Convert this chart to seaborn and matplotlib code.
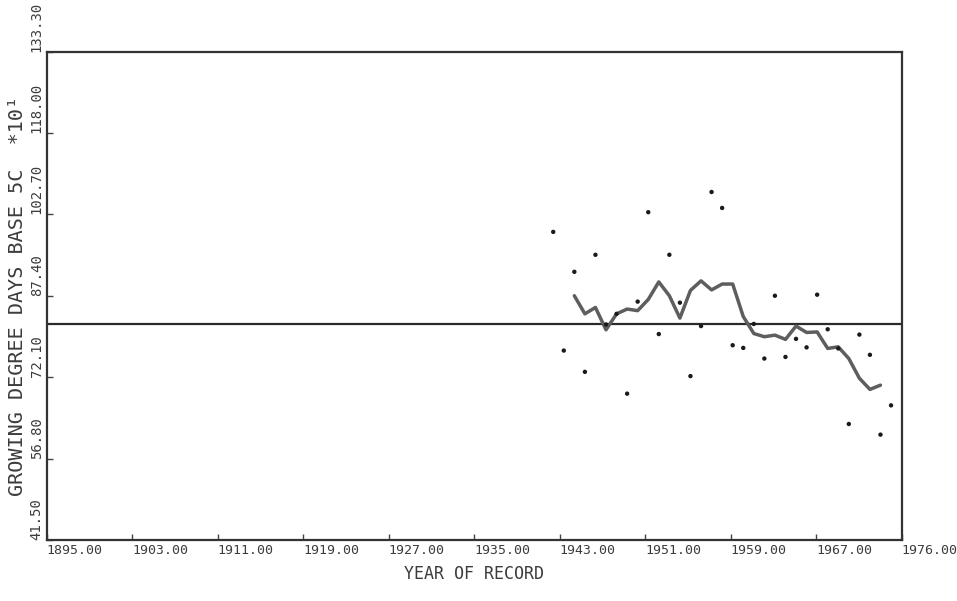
import numpy as np
import pandas as pd
import matplotlib
matplotlib.use("Agg")
import matplotlib.pyplot as plt
import seaborn as sns

# ---- data ----
years = list(range(1943, 1976))
gdd = [99.4, 77.1, 91.9, 73.1, 95.1, 82.0, 84.0, 69.0, 86.3, 103.1, 80.2,
       95.1, 86.1, 72.3, 81.7, 106.9, 103.9, 78.1, 77.6, 82.1, 75.6, 87.4,
       75.9, 79.3, 77.7, 87.6, 81.1, 77.5, 63.3, 80.1, 76.3, 61.3, 66.8]

smooth_years = list(range(1945, 1975))
smooth_vals = [87.4, 84.0, 85.2, 81.0, 84.0, 84.9, 84.6, 86.7, 90.0, 87.4,
               83.2, 88.4, 90.2, 88.5, 89.6, 89.6, 83.5, 80.3, 79.7, 80.0,
               79.2, 81.7, 80.5, 80.6, 77.5, 77.8, 75.6, 71.9, 69.8, 70.6]

mean_value = 82.0

x_ticks = [1895.0, 1903.1, 1911.2, 1919.3, 1927.4, 1935.5, 1943.6, 1951.7,
           1959.8, 1967.9, 1976.0]
x_tick_labels = ["1895.00", "1903.00", "1911.00", "1919.00", "1927.00",
                 "1935.00", "1943.00", "1951.00", "1959.00", "1967.00",
                 "1976.00"]
y_ticks = [41.5, 56.8, 72.1, 87.4, 102.7, 118.0, 133.3]
y_tick_labels = ["41.50", "56.80", "72.10", "87.40", "102.70", "118.00", "133.30"]

x_label = "YEAR OF RECORD"
y_label = "GROWING DEGREE DAYS BASE 5C  *10\u00b9"

# ---- plotting ----
sns.set_theme(style="white")
plt.rcParams["font.family"] = ["DejaVu Sans Mono", "DejaVu Sans"]

text_col = "#3c3c3c"
fig = plt.figure(figsize=(9.57, 6.01), dpi=100)
ax = fig.add_axes([0.0486, 0.1015, 0.8935, 0.8128])

pts = pd.DataFrame({"year": years, "gdd": gdd})
sm = pd.DataFrame({"year": smooth_years, "gdd": smooth_vals})

ax.axhline(mean_value, color="#2a2a2a", lw=1.6, zorder=2)
sns.lineplot(data=sm, x="year", y="gdd", ax=ax, color="#5e5e5e", lw=2.5,
             zorder=3)
sns.scatterplot(data=pts, x="year", y="gdd", ax=ax, color="#1a1a1a", s=10,
                edgecolor="none", zorder=4)

ax.set_xlim(x_ticks[0], x_ticks[-1])
ax.set_ylim(y_ticks[0], y_ticks[-1])

ax.set_xticks(x_ticks)
ax.set_xticklabels(x_tick_labels, fontsize=9.5, color=text_col, ha="left")
ax.set_yticks(y_ticks)
ax.set_yticklabels(y_tick_labels, fontsize=10, color=text_col,
                   rotation=90, va="bottom", ha="right")
ax.tick_params(axis="both", which="both", direction="in", length=4,
               width=1.0, color="#444444", bottom=True, left=True)
ax.tick_params(axis="x", pad=3)
ax.tick_params(axis="y", pad=2)

for s in ax.spines.values():
    s.set_color("#333333")
    s.set_linewidth(1.6)

ax.set_xlabel(x_label, fontsize=12, color=text_col, labelpad=6)
ax.set_ylabel(y_label, fontsize=14.5, color=text_col, labelpad=2)

fig.savefig("out.png", dpi=100, facecolor="white")
